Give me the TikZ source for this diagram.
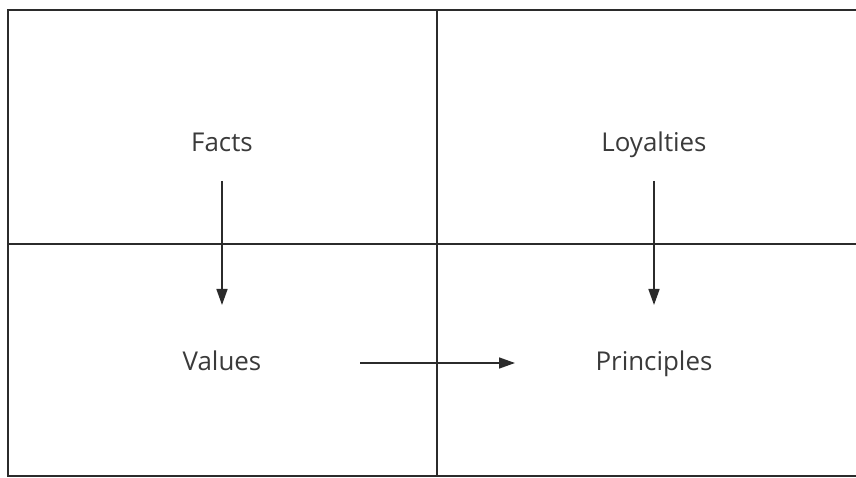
\documentclass[tikz,border=0pt]{standalone}
\usepackage{fontspec}
\setmainfont{Open Sans}
\usetikzlibrary{arrows.meta}
\definecolor{ink}{HTML}{2B2B2B}
\definecolor{txt}{HTML}{3A3A3A}
\begin{document}
\begin{tikzpicture}[x=1bp,y=1bp,
  frame/.style={draw=ink,line width=2bp},
  lbl/.style={font=\fontsize{26}{30}\selectfont,text=txt,inner sep=0pt,anchor=base},
  arr/.style={draw=ink,line width=1.6bp,-{Triangle[length=16bp,width=11bp]}}]
\useasboundingbox (0,0) rectangle (856,-478);
% frame
\draw[frame] (856,-10) -- (8,-10) -- (8,-476) -- (856,-476);
\draw[frame] (437,-10) -- (437,-476);
\draw[frame] (8,-244) -- (856,-244);
% labels
\node[lbl] (facts) at (222,-152) {Facts};
\node[lbl] (loyal) at (654,-152) {Loyalties};
\node[lbl] (values) at (222,-370) {Values};
\node[lbl] (princ) at (654,-370) {Principles};
% arrows
\draw[arr,shorten <=29bp,shorten >=65bp] (facts.base) -- (values.base);
\draw[arr,shorten <=29bp,shorten >=65bp] (loyal.base) -- (princ.base);
\draw[arr,shorten <=138bp,shorten >=139bp] ([yshift=7bp]values.base) -- ([yshift=7bp]princ.base);
\end{tikzpicture}
\end{document}
